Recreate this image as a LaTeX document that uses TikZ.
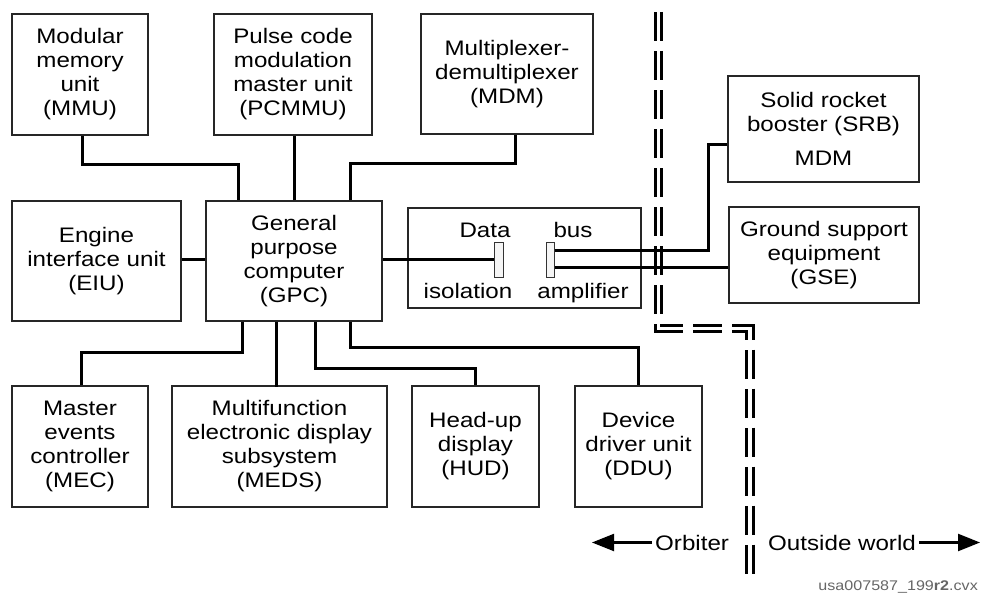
\documentclass[tikz,border=0pt]{standalone}
\usepackage{fontspec}
\setmainfont{Liberation Sans}[FakeStretch=1.15]
\usetikzlibrary{arrows.meta}
\begin{document}
\begin{tikzpicture}[x=1pt,y=-1pt,
  box/.style={draw=black!85, line width=1.3pt, inner sep=0pt, align=center,
    font=\fontsize{21}{24}\selectfont},
  bar/.style={draw=black!80, fill=black!4, line width=1pt, inner sep=0pt},
  lbl/.style={inner sep=0pt, font=\fontsize{21}{24}\selectfont},
  conn/.style={draw=black, line width=3pt},
  bound/.style={draw=black, line width=3pt, double=white, double distance=3.2pt,
    dash pattern=on 29pt off 10pt},
  arr/.style={draw=black, line width=2.2pt, -{Triangle[length=22pt,width=17pt]}}
]
\useasboundingbox[fill=white] (0,0) rectangle (982,594);

% boundary
\draw[bound] (658.5,12) -- (658.5,328.5) -- (750,328.5) -- (750,578);

% top row
\node[box, minimum width=136pt, minimum height=121pt] (mmu) at (80,74.5) {Modular\\memory\\unit\\(MMU)};
\node[box, minimum width=158pt, minimum height=121pt] (pcmmu) at (293,74.5) {Pulse code\\modulation\\master unit\\(PCMMU)};
\node[box, minimum width=172pt, minimum height=120pt] (mdm) at (507,74) {Multiplexer-\\demultiplexer\\(MDM)};
\node[box, minimum width=191pt, minimum height=106pt] (srb) at (823.5,129) {Solid rocket\\booster (SRB)\\[10pt]MDM};

% middle row
\node[box, minimum width=169pt, minimum height=120pt] (eiu) at (96.5,261) {Engine\\interface unit\\(EIU)};
\node[box, minimum width=176pt, minimum height=120pt] (gpc) at (294,261) {General\\purpose\\computer\\(GPC)};
\node[box, minimum width=233pt, minimum height=100pt] (dbox) at (524.5,258) {};
\node[box, minimum width=190pt, minimum height=96pt] (gse) at (824,255) {Ground support\\equipment\\(GSE)};
\node[bar, minimum width=9pt, minimum height=35pt] (iso) at (498.5,259.5) {};
\node[bar, minimum width=8pt, minimum height=35pt] (amp) at (550,259.5) {};
\node[lbl, anchor=base] (tdata) at (485,237) {Data};
\node[lbl, anchor=base] (tbus) at (573,237) {bus};
\node[lbl, anchor=base] (tiso) at (468,298) {isolation};
\node[lbl, anchor=base] (tamp) at (583,298) {amplifier};

% bottom row
\node[box, minimum width=136pt, minimum height=121pt] (mec) at (80,446.5) {Master\\events\\controller\\(MEC)};
\node[box, minimum width=215pt, minimum height=121pt] (meds) at (279.5,446.5) {Multifunction\\electronic display\\subsystem\\(MEDS)};
\node[box, minimum width=127pt, minimum height=121pt] (hud) at (475.5,446.5) {Head-up\\display\\(HUD)};
\node[box, minimum width=127pt, minimum height=121pt] (ddu) at (638.5,446.5) {Device\\driver unit\\(DDU)};

% connectors top
\draw[conn] ([xshift=2pt]mmu.south) -- ++(0,29) -| ([xshift=-56pt]gpc.north);
\draw[conn] (gpc.north) -- (gpc.north |- pcmmu.south);
\draw[conn] ([xshift=56pt]gpc.north) -- ++(0,-37) -| ([xshift=8pt]mdm.south);
% middle
\draw[conn] (eiu.east |- iso.west) -- (gpc.west |- iso.west);
\draw[conn] (gpc.east |- iso.west) -- (iso.west);
\coordinate (ampa) at ([yshift=9.5pt]amp.east);
\coordinate (ampb) at ([yshift=-7.5pt]amp.east);
\draw[conn] (ampa) -- ++(154,0) |- ([yshift=-15pt]srb.west);
\draw[conn] (ampb) -- (ampb -| gse.west);
% bottom
\draw[conn] ([xshift=-52pt]gpc.south) -- ++(0,31) -| ([xshift=1pt]mec.north);
\draw[conn] ([xshift=-18pt]gpc.south) -- ++(0,65);
\draw[conn] ([xshift=21pt]gpc.south) -- ++(0,47) -| (hud.north);
\draw[conn] ([xshift=56pt]gpc.south) -- ++(0,26) -| (ddu.north);

% legend
\node[lbl, anchor=base west, inner xsep=3pt] (orb) at (652,550) {Orbiter};
\node[lbl, anchor=base west, inner xsep=3pt] (out) at (765,550) {Outside world};
\draw[arr] (orb.west) -- ++(-60,0);
\draw[arr] (out.east) -- ++(61,0);
\node[inner sep=0pt, anchor=base east, text=black!60, font=\fontsize{14}{16}\selectfont] (ref) at (978,590) {usa007587\_199\textbf{r2}.cvx};
\end{tikzpicture}
\end{document}
